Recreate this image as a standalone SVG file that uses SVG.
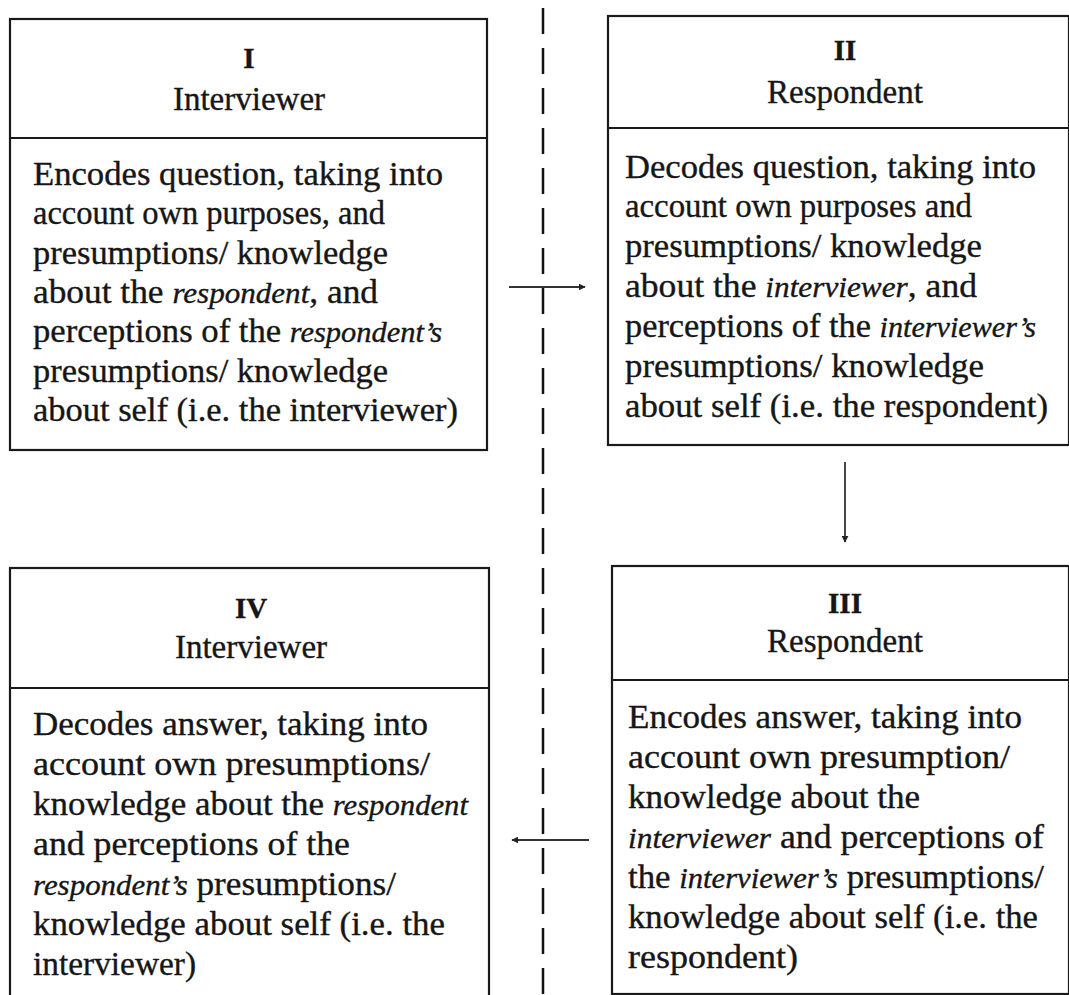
<svg xmlns="http://www.w3.org/2000/svg" width="1069" height="995" viewBox="0 0 1069 995">
<defs>
<marker id="ah" viewBox="0 0 10 10" refX="9" refY="5" markerWidth="7" markerHeight="7" markerUnits="userSpaceOnUse" orient="auto">
<path d="M0,0 L10,5 L0,10 Z" fill="#222"/>
</marker>
<style>
.box{fill:#fff;stroke:#1a1a1a;stroke-width:2.2}
.div{stroke:#1a1a1a;stroke-width:2.2}
text{font-family:"Liberation Serif","Times New Roman",serif;fill:#161616;stroke:#161616;stroke-width:0.35}
.num{font-size:29px;font-weight:bold;text-anchor:middle}
.hd{font-size:33px;text-anchor:middle}
.bd{font-size:33px}
.it{font-style:italic;font-size:29px}
.conn{stroke:#333;stroke-width:1.8;fill:none}
.dash{stroke:#111;stroke-width:2.5;stroke-dasharray:26 14;fill:none}
</style>
</defs>
<rect width="1069" height="995" fill="#fff"/>
<g id="connectors">
<line class="dash" x1="543" y1="8" x2="543" y2="995"/>
<line class="conn" x1="509" y1="287" x2="585" y2="287" marker-end="url(#ah)"/>
<line class="conn" x1="845" y1="462" x2="845" y2="542" marker-end="url(#ah)"/>
<line class="conn" x1="589" y1="840" x2="512" y2="840" marker-end="url(#ah)"/>
</g>
<g id="node-I">
<rect class="box" x="10" y="19" width="477" height="431"/>
<line class="div" x1="10" y1="138" x2="487" y2="138"/>
<text class="num" x="249" y="68">I</text>
<text class="hd" x="249" y="110">Interviewer</text>
<text class="bd" x="33" y="185" textLength="410" lengthAdjust="spacingAndGlyphs">Encodes question, taking into</text>
<text class="bd" x="33" y="224" textLength="352" lengthAdjust="spacingAndGlyphs">account own purposes, and</text>
<text class="bd" x="33" y="264" textLength="355" lengthAdjust="spacingAndGlyphs">presumptions/ knowledge</text>
<text class="bd" x="33" y="303" textLength="345" lengthAdjust="spacingAndGlyphs">about the <tspan class="it">respondent</tspan>, and</text>
<text class="bd" x="33" y="342" textLength="409" lengthAdjust="spacingAndGlyphs">perceptions of the <tspan class="it">respondent’s</tspan></text>
<text class="bd" x="33" y="382" textLength="355" lengthAdjust="spacingAndGlyphs">presumptions/ knowledge</text>
<text class="bd" x="33" y="421" textLength="425" lengthAdjust="spacingAndGlyphs">about self (i.e. the interviewer)</text>
</g>
<g id="node-II">
<rect class="box" x="608" y="16" width="461" height="429"/>
<line class="div" x1="608" y1="128" x2="1069" y2="128"/>
<text class="num" x="845" y="60">II</text>
<text class="hd" x="845" y="103">Respondent</text>
<text class="bd" x="625" y="178" textLength="411" lengthAdjust="spacingAndGlyphs">Decodes question, taking into</text>
<text class="bd" x="625" y="217" textLength="347" lengthAdjust="spacingAndGlyphs">account own purposes and</text>
<text class="bd" x="625" y="257" textLength="357" lengthAdjust="spacingAndGlyphs">presumptions/ knowledge</text>
<text class="bd" x="625" y="297" textLength="352" lengthAdjust="spacingAndGlyphs">about the <tspan class="it">interviewer</tspan>, and</text>
<text class="bd" x="625" y="337" textLength="411" lengthAdjust="spacingAndGlyphs">perceptions of the <tspan class="it">interviewer’s</tspan></text>
<text class="bd" x="625" y="377" textLength="359" lengthAdjust="spacingAndGlyphs">presumptions/ knowledge</text>
<text class="bd" x="625" y="417" textLength="423" lengthAdjust="spacingAndGlyphs">about self (i.e. the respondent)</text>
</g>
<g id="node-III">
<rect class="box" x="612" y="566" width="457" height="428"/>
<line class="div" x1="612" y1="680" x2="1069" y2="680"/>
<text class="num" x="845" y="613">III</text>
<text class="hd" x="845" y="652">Respondent</text>
<text class="bd" x="628" y="728" textLength="394" lengthAdjust="spacingAndGlyphs">Encodes answer, taking into</text>
<text class="bd" x="628" y="768" textLength="382" lengthAdjust="spacingAndGlyphs">account own presumption/</text>
<text class="bd" x="628" y="808" textLength="292" lengthAdjust="spacingAndGlyphs">knowledge about the</text>
<text class="bd" x="628" y="848" textLength="416" lengthAdjust="spacingAndGlyphs"><tspan class="it">interviewer</tspan> and perceptions of</text>
<text class="bd" x="628" y="888" textLength="416" lengthAdjust="spacingAndGlyphs">the <tspan class="it">interviewer’s</tspan> presumptions/</text>
<text class="bd" x="628" y="928" textLength="410" lengthAdjust="spacingAndGlyphs">knowledge about self (i.e. the</text>
<text class="bd" x="628" y="968" textLength="170" lengthAdjust="spacingAndGlyphs">respondent)</text>
</g>
<g id="node-IV">
<rect class="box" x="10" y="568" width="479" height="432"/>
<line class="div" x1="10" y1="688" x2="489" y2="688"/>
<text class="num" x="251" y="618">IV</text>
<text class="hd" x="251" y="658">Interviewer</text>
<text class="bd" x="33" y="735" textLength="395" lengthAdjust="spacingAndGlyphs">Decodes answer, taking into</text>
<text class="bd" x="33" y="775" textLength="397" lengthAdjust="spacingAndGlyphs">account own presumptions/</text>
<text class="bd" x="33" y="815" textLength="435" lengthAdjust="spacingAndGlyphs">knowledge about the <tspan class="it">respondent</tspan></text>
<text class="bd" x="33" y="855" textLength="317" lengthAdjust="spacingAndGlyphs">and perceptions of the</text>
<text class="bd" x="33" y="895" textLength="363" lengthAdjust="spacingAndGlyphs"><tspan class="it">respondent’s</tspan> presumptions/</text>
<text class="bd" x="33" y="935" textLength="412" lengthAdjust="spacingAndGlyphs">knowledge about self (i.e. the</text>
<text class="bd" x="33" y="975" textLength="163" lengthAdjust="spacingAndGlyphs">interviewer)</text>
</g>
</svg>
